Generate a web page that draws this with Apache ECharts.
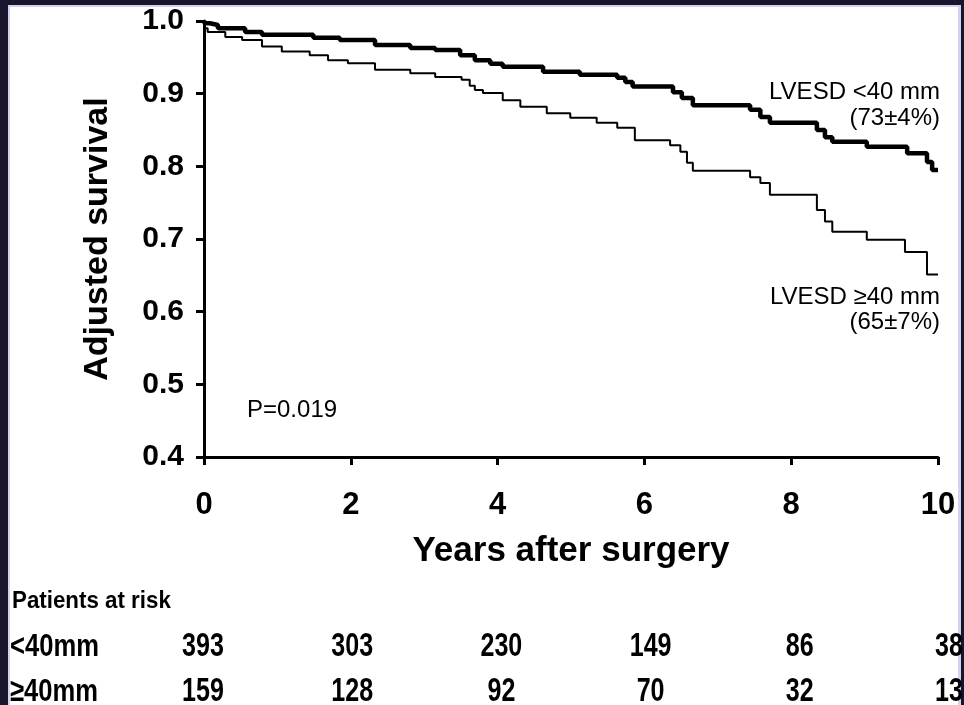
<!DOCTYPE html>
<html>
<head>
<meta charset="utf-8">
<script src="https://cdn.jsdelivr.net/npm/echarts@6/dist/echarts.min.js"></script>
<style>
html,body{margin:0;padding:0;background:#17162c;}
#c{width:964px;height:705px;}
</style>
</head>
<body>
<div id="c"></div>
<script>
// Survival curves (step changes): [years, survival]
const lt40Curve = [
  [0,1.0],[0.01,0.997],[0.08,0.9945],[0.19,0.990],[0.56,0.985],[0.79,0.981],[1.49,0.977],[1.85,0.974],
  [2.33,0.967],[2.81,0.963],[3.15,0.960],[3.49,0.953],[3.69,0.946],[3.90,0.941],[4.07,0.937],[4.62,0.930],
  [5.12,0.926],[5.63,0.922],[5.74,0.916],[5.84,0.910],[6.39,0.902],[6.51,0.894],[6.66,0.884],[7.44,0.878],
  [7.58,0.868],[7.71,0.860],[8.35,0.850],[8.46,0.840],[8.56,0.834],[9.03,0.827],[9.58,0.818],[9.85,0.806],
  [9.92,0.795],[10,0.795]
];
const ge40Curve = [
  [0,1.0],[0.01,0.990],[0.05,0.985],[0.29,0.978],[0.52,0.974],[0.79,0.965],[1.06,0.958],[1.44,0.953],
  [1.69,0.946],[1.96,0.942],[2.33,0.933],[2.81,0.928],[3.15,0.923],[3.51,0.919],[3.62,0.911],[3.69,0.905],
  [3.80,0.901],[4.07,0.891],[4.31,0.882],[4.67,0.873],[4.99,0.867],[5.35,0.860],[5.63,0.853],[5.87,0.836],
  [6.35,0.829],[6.49,0.820],[6.58,0.805],[6.66,0.794],[7.44,0.785],[7.58,0.777],[7.71,0.761],[8.35,0.740],
  [8.46,0.724],[8.56,0.710],[9.03,0.699],[9.55,0.682],[9.85,0.651],[10,0.651]
];
// Patients at risk
const riskYears = [0,2,4,6,8,10];
const riskLt40 = [393,303,230,149,86,38];
const riskGe40 = [159,128,92,70,32,13];
const rowLabels = ['<40mm','\u226540mm'];

const riskData = [];
riskYears.forEach((y,i)=>{ riskData.push([y,1,riskLt40[i]]); riskData.push([y,0,riskGe40[i]]); });

const FONT = '"Liberation Sans", Arial, sans-serif';
const chart = echarts.init(document.getElementById('c'));
chart.setOption({
  backgroundColor: '#17162c',
  animation: false,
  graphic: [
    {type:'rect', z:-10, shape:{x:8,y:5,width:953,height:700}, style:{fill:'#d4d2f0'}},
    {type:'rect', z:-9, shape:{x:10,y:7,width:948,height:698}, style:{fill:'#ffffff'}},
    {type:'text', x:12, y:601, scaleX:0.93, style:{text:'Patients at risk', font:'bold 24px '+FONT, fill:'#000', verticalAlign:'middle'}},
    {type:'text', x:10, y:647, scaleX:0.8, style:{text:rowLabels[0], font:'bold 32px '+FONT, fill:'#000', verticalAlign:'middle'}},
    {type:'text', x:10, y:692, scaleX:0.8, style:{text:rowLabels[1], font:'bold 32px '+FONT, fill:'#000', verticalAlign:'middle'}},
    {type:'text', x:940, y:92, style:{text:'LVESD <40 mm', font:'24px '+FONT, fill:'#000', align:'right', verticalAlign:'middle'}},
    {type:'text', x:940, y:118, style:{text:'(73\u00b14%)', font:'24px '+FONT, fill:'#000', align:'right', verticalAlign:'middle'}},
    {type:'text', x:940, y:297, style:{text:'LVESD \u226540 mm', font:'24px '+FONT, fill:'#000', align:'right', verticalAlign:'middle'}},
    {type:'text', x:940, y:322, style:{text:'(65\u00b17%)', font:'24px '+FONT, fill:'#000', align:'right', verticalAlign:'middle'}},
    {type:'text', left:247, top:398, style:{text:'P=0.019', font:'24px '+FONT, fill:'#000'}}
  ],
  grid: [
    {left:204, right:26, top:21, bottom:248, containLabel:false},
    {left:203, right:15, top:647, height:45, containLabel:false}
  ],
  xAxis: [
    {type:'value', gridIndex:0, min:0, max:10, interval:2,
     name:'Years after surgery', nameLocation:'middle', nameGap:77,
     nameTextStyle:{fontFamily:FONT, fontWeight:'bold', fontSize:35, color:'#000'},
     axisLine:{lineStyle:{color:'#000', width:3}},
     axisTick:{length:8, lineStyle:{color:'#000', width:3}},
     axisLabel:{margin:33, fontFamily:FONT, fontWeight:'bold', fontSize:31, color:'#000'},
     splitLine:{show:false}},
    {type:'value', gridIndex:1, min:0, max:10, show:false}
  ],
  yAxis: [
    {type:'value', gridIndex:0, min:0.4, max:1.0, interval:0.1,
     name:'Adjusted survival', nameLocation:'middle', nameGap:89,
     nameTextStyle:{fontFamily:FONT, fontWeight:'bold', fontSize:34, color:'#000'},
     axisLine:{lineStyle:{color:'#000', width:3}},
     axisTick:{length:8, lineStyle:{color:'#000', width:3}},
     axisLabel:{margin:20, fontFamily:FONT, fontWeight:'bold', fontSize:30, color:'#000',
                formatter:v=>v.toFixed(1)},
     splitLine:{show:false}},
    {type:'value', gridIndex:1, min:0, max:1, show:false}
  ],
  series: [
    {type:'line', name:'LVESD <40 mm', xAxisIndex:0, yAxisIndex:0, step:'end', showSymbol:false,
     data:lt40Curve, lineStyle:{color:'#000', width:4.5}, itemStyle:{color:'#000'}},
    {type:'line', name:'LVESD \u226540 mm', xAxisIndex:0, yAxisIndex:0, step:'end', showSymbol:false,
     data:ge40Curve, lineStyle:{color:'#000', width:2}, itemStyle:{color:'#000'}},
    {type:'custom', xAxisIndex:1, yAxisIndex:1, data:riskData, clip:false,
     renderItem:(params, api)=>{
       const p = api.coord([api.value(0), api.value(1)]);
       return {type:'text', x:p[0], y:p[1], scaleX:0.76,
         style:{text:String(api.value(2)), font:'bold 33px '+FONT, fill:'#000', align:'center', verticalAlign:'middle'}};
     }}
  ]
});
</script>
</body>
</html>
